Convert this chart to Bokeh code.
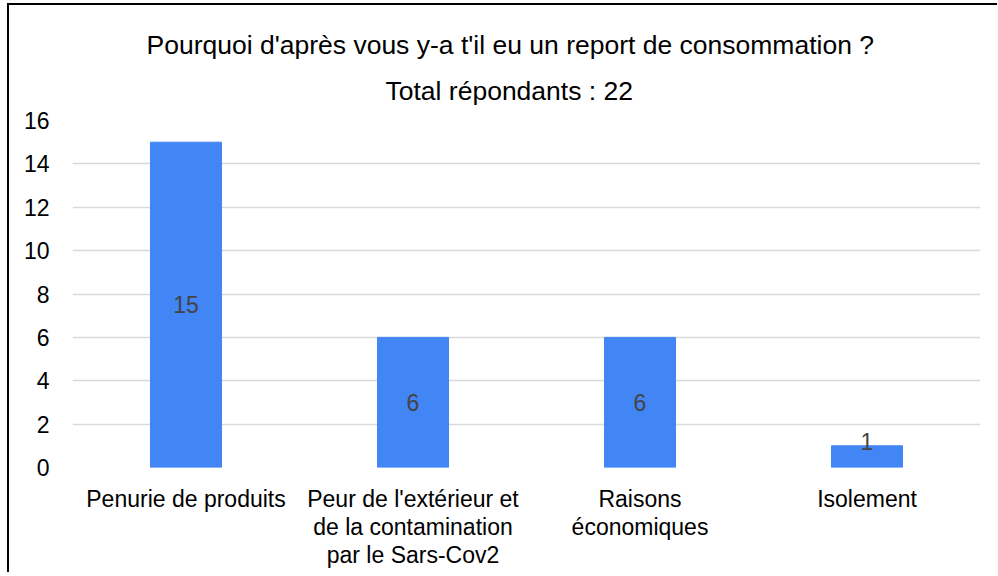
from bokeh.plotting import figure
from bokeh.models import ColumnDataSource, FixedTicker, Range1d, Title
from bokeh.embed import file_html
from bokeh.resources import INLINE
from bokeh.core.properties import value

categories = ["Penurie de produits",
              "Peur de l'extérieur et\nde la contamination\npar le Sars-Cov2",
              "Raisons\néconomiques",
              "Isolement"]
counts = [15, 6, 6, 1]
y_ticks = [0, 2, 4, 6, 8, 10, 12, 14, 16]
title_line1 = "Pourquoi d'après vous y-a t'il eu un report de consommation ?"
title_line2 = "Total répondants : 22"

FONT = "Liberation Sans"

src = ColumnDataSource(dict(
    cat=categories,
    cnt=counts,
    lbl=[str(c) for c in counts],
    ly=[max(c / 2, 1.2) for c in counts],
))

p = figure(x_range=categories, y_range=Range1d(0, 16),
           output_backend="svg", toolbar_location=None,
           frame_width=908, frame_height=347,
           min_border_left=63, min_border_right=17,
           min_border_top=115, min_border_bottom=105,
           title=title_line1)

p.styles = {"margin-left": "7px", "margin-top": "3px",
            "border-top": "2px solid black", "border-left": "2px solid black"}

# outer title line
p.title.align = "left"
p.title.offset = 74
p.title.standoff = 0
p.title.text_font = FONT
p.title.text_font_size = "26.5px"
p.title.text_font_style = "normal"
p.title.text_color = "#000000"

# inner title line (closer to the frame)
t2 = Title(text=title_line2, align="left", offset=313, standoff=29,
           text_font=FONT, text_font_size="26.5px", text_font_style="normal",
           text_color="#000000")
p.add_layout(t2, "above")

p.vbar(x="cat", top="cnt", width=0.313, source=src, color="#4285F4")
p.text(x="cat", y="ly", text="lbl", source=src, text_align="center",
       text_baseline="middle", text_font=value(FONT), text_font_size="23px",
       text_color="#444444")

p.outline_line_color = None
p.xgrid.grid_line_color = None
p.ygrid.grid_line_color = "#d9d9d9"
p.ygrid.grid_line_width = 1.5

p.yaxis.ticker = FixedTicker(ticks=y_ticks)
for ax in (p.xaxis, p.yaxis):
    ax.axis_line_color = None
    ax.major_tick_line_color = None
    ax.minor_tick_line_color = None
    ax.major_label_text_font = FONT
    ax.major_label_text_font_size = "23px"
    ax.major_label_text_color = "#000000"
p.yaxis.major_label_standoff = 17
p.xaxis.major_label_standoff = 12
p.xaxis.major_label_text_line_height = 1.08
p.xaxis.major_label_text_align = "center"

open("out.html", "w").write(file_html(p, INLINE))
